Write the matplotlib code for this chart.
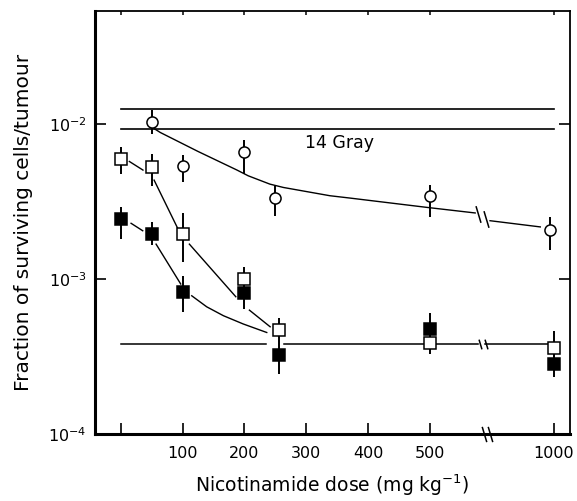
import numpy as np
import matplotlib
matplotlib.use("Agg")
import matplotlib.pyplot as plt

nan = np.nan

# tick positions (mg/kg); 1000 sits past the axis break
x_ticks = [0, 100, 200, 300, 400, 500, 1000]
x_labels = ["", "100", "200", "300", "400", "500", "1000"]

# open circles
circ_dose = [50, 100, 200, 250, 500, 985]
circ_val = [0.0103, 0.00538, 0.00656, 0.00333, 0.00345, 0.00207]
circ_lo = [0.00866, 0.00425, 0.00478, 0.00256, 0.0025, 0.00154]
circ_hi = [0.01236, 0.00634, 0.00792, 0.00397, 0.00404, 0.00252]

# open squares
osq_dose = [0, 50, 100, 200, 256, 500, 1000]
osq_val = [0.00594, 0.0053, 0.00195, 0.001, 0.000471, 0.000386, 0.000357]
osq_lo = [0.00478, 0.004, 0.00128, 0.00084, 0.0004, 0.000329, 0.0003]
osq_hi = [0.00714, 0.00646, 0.00265, 0.00119, 0.000559, 0.00045, 0.000464]

# filled squares
fsq_dose = [0, 50, 100, 200, 256, 500, 1000]
fsq_val = [0.00244, 0.00195, 0.00082, 0.000807, 0.000325, 0.000476, 0.000285]
fsq_lo = [0.00182, 0.00166, 0.000615, 0.000642, 0.000245, 0.0004, 0.000233]
fsq_hi = [0.00293, 0.00232, 0.00105, 0.00097, 0.0004, 0.000608, 0.00034]

# fitted curves (nan = gap)
circ_cx = [55, 64, 125, 188, 206, 241, 263, 338, 371, 495, 682, nan, 742, 945]
circ_cy = [0.0093, 0.00883, 0.00666, 0.00505, 0.00464, 0.0041, 0.0039,
           0.00345, 0.00333, 0.0029, 0.00267, nan, 0.00238, 0.00217]
osq_cx = [14, 36, nan, 54, 91.5, nan, 111, 186, nan, 208, 241.5]
osq_cy = [0.00574, 0.00505, nan, 0.00435, 0.00215, nan, 0.00168, 0.000769,
          nan, 0.00063, 0.000492]
fsq_cx = [16.8, 35.6, nan, 57.2, 97, nan, 114.8, 139, 166, 198, 236]
fsq_cy = [0.00229, 0.00205, nan, 0.00168, 0.000929, nan, 0.00078, 0.000662,
          0.00058, 0.000513, 0.000452]

# horizontal reference levels
band_hi = 0.01256
band_lo = 0.00933
plateau = 0.00038
plateau_x = [0, 234, nan, 264, 695, nan, 722, 990]


def fwd(x):
    x = np.asarray(x, dtype=float)
    return np.where(x <= 500, x, 500 + (x - 500) * 0.4)


def inv(u):
    u = np.asarray(u, dtype=float)
    return np.where(u <= 500, u, 500 + (u - 500) / 0.4)


brk = [(-0.3, 1), (0.3, -1)]

fig = plt.figure(figsize=(5.77, 5.01), dpi=100)
ax = fig.add_axes([95 / 577, 67 / 501, 475 / 577, 423 / 501])
ax.set_xscale("function", functions=(fwd, inv))
ax.set_yscale("log")
ax.set_xlim(-41.5, 1065)
ax.set_ylim(1e-4, 10 ** -1.27)

ax.plot([0, 1000], [band_hi, band_hi], color="k", lw=1.2, zorder=1)
ax.plot([0, 1000], [band_lo, band_lo], color="k", lw=1.2, zorder=1)
ax.plot(plateau_x, [plateau] * len(plateau_x), color="k", lw=1.1, zorder=1)
ax.plot(circ_cx, circ_cy, color="k", lw=1.0, zorder=1)
ax.plot(osq_cx, osq_cy, color="k", lw=1.0, zorder=1)
ax.plot(fsq_cx, fsq_cy, color="k", lw=1.0, zorder=1)

# break marks on the lines
ax.plot([695, 727], [0.00262, 0.00245], ls="none", marker=brk, ms=12,
        mec="k", mew=1.1, zorder=3)
ax.plot([702, 726], [plateau, plateau], ls="none", marker=brk, ms=7,
        mec="k", mew=1.1, zorder=3)

for d, v, lo, hi, style in [
    (circ_dose, circ_val, circ_lo, circ_hi, dict(marker="o", mfc="white")),
    (osq_dose, osq_val, osq_lo, osq_hi, dict(marker="s", mfc="white")),
    (fsq_dose, fsq_val, fsq_lo, fsq_hi, dict(marker="s", mfc="black")),
]:
    v = np.array(v)
    yerr = [v - np.array(lo), np.array(hi) - v]
    ax.errorbar(d, v, yerr=yerr, fmt="none", ecolor="k", elinewidth=1.4,
                capsize=0, zorder=2)
    ax.plot(d, v, ls="none", ms=8, mec="k", mew=1.1, zorder=4, **style)

ax.text(353, 0.0076, "14 Gray", fontsize=12.5, ha="center", va="center")

ax.set_xticks(x_ticks)
ax.set_xticklabels(x_labels)
ax.yaxis.set_minor_locator(matplotlib.ticker.NullLocator())
ax.xaxis.set_minor_locator(matplotlib.ticker.NullLocator())
ax.tick_params(axis="x", direction="in", length=8, width=1.2, pad=9,
               labelsize=11.5)
ax.tick_params(axis="y", direction="in", length=8, width=1.2, pad=6,
               labelsize=11.5, right=True)

# short ticks along the top
ax2 = ax.twiny()
ax2.set_xscale("function", functions=(fwd, inv))
ax2.set_xlim(ax.get_xlim())
ax2.set_xticks(x_ticks)
ax2.xaxis.set_minor_locator(matplotlib.ticker.NullLocator())
ax2.tick_params(axis="x", direction="in", length=3, width=1.1, labeltop=False)
for s in ax2.spines.values():
    s.set_visible(False)

# axis break on the bottom spine
ax.plot([719, 743], [0, 0], transform=ax.get_xaxis_transform(), ls="none",
        marker=brk, ms=11, mec="k", mew=1.1, clip_on=False, zorder=5)

ax.spines["left"].set_linewidth(2.2)
ax.spines["bottom"].set_linewidth(2.2)
ax.spines["top"].set_linewidth(1.3)
ax.spines["right"].set_linewidth(1.3)

ax.set_xlabel("Nicotinamide dose (mg kg$^{-1}$)", fontsize=13.5, labelpad=8)
ax.set_ylabel("Fraction of surviving cells/tumour", fontsize=14.5, labelpad=11)

fig.savefig("out.png", dpi=100)
